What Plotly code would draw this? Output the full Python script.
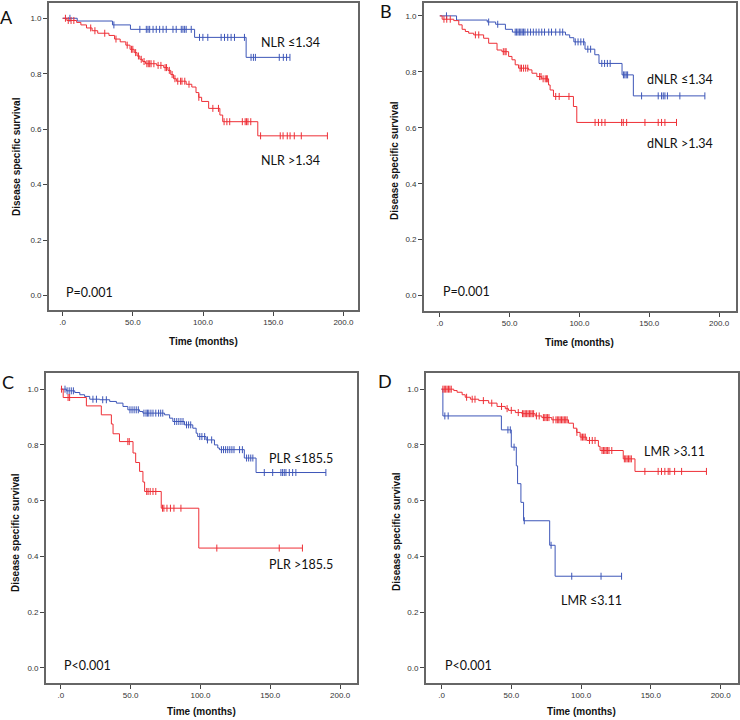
import plotly.graph_objects as go

W, H = 740, 720

# ---------------- data (time in months, survival proportion) ----------------
# Panel A: NLR
A_lo_t = [0, 10.4, 35.5, 48.3, 94.0, 130.7]
A_lo_s = [1.0, 0.990, 0.976, 0.960, 0.931, 0.859]
A_lo_c = [5.2, 36.5, 55, 59.6, 60.8, 62, 64.4, 66.7, 69.1, 71.5, 73.8, 78.6, 80.9, 84.5, 85.7, 86.9,
          88, 91.6, 97.5, 99.9, 103.4, 112.9, 115.3, 117.6, 120, 122.4, 129.5, 134.2, 135.9, 137.3,
          154.3, 157.2, 159.5, 161.9]
A_hi_t = [0, 3, 10, 13, 17, 21, 25, 33, 37, 41, 45, 48, 51, 53, 55, 57, 59, 67, 72, 75, 77, 79, 81,
          88, 92, 95, 97, 99, 104, 112, 114, 139]
A_hi_s = [1.0, 0.992, 0.985, 0.976, 0.965, 0.955, 0.946, 0.938, 0.925, 0.915, 0.903, 0.888, 0.876,
          0.864, 0.852, 0.844, 0.836, 0.830, 0.822, 0.812, 0.797, 0.782, 0.773, 0.762, 0.752, 0.732,
          0.715, 0.700, 0.675, 0.651, 0.627, 0.576]
A_hi_c = [2, 4, 6, 8, 20, 23, 30, 38, 46, 49, 50, 52, 54, 56, 58, 60, 61, 62, 63, 65, 68, 70, 73, 74,
          76, 78, 80, 82, 84, 85, 87, 90, 97, 107, 111, 115, 117, 119, 128, 130, 131, 132, 134, 141,
          155, 157, 160, 162, 165, 170, 188.6]

# Panel B: dNLR
B_lo_t = [0, 12, 34, 40, 47, 52, 90, 93, 96, 104, 111, 114, 130.5, 138.6]
B_lo_s = [1.0, 0.985, 0.978, 0.970, 0.952, 0.942, 0.932, 0.922, 0.907, 0.881, 0.861, 0.830, 0.789, 0.714]
B_lo_c = [4.8, 35, 41.5, 54, 55, 56, 57, 58, 59, 60, 61, 63, 65, 67, 69, 71, 73, 75, 78, 80, 83, 86,
          88, 97, 99, 101, 103, 106, 108, 116, 118, 120, 122, 131.5, 132.5, 133.5, 134.5, 144.5,
          156.4, 158.8, 160, 161.2, 163, 171.9, 189.8]
B_hi_t = [0, 1.7, 10, 13.6, 16, 18.3, 20.7, 24.3, 31.4, 35, 41, 44.5, 49.3, 51.7, 54, 56.4, 63.6, 66,
          69.5, 73, 77.9, 79, 81.4, 95.7, 98.1]
B_hi_s = [1.0, 0.988, 0.983, 0.968, 0.952, 0.944, 0.938, 0.932, 0.920, 0.902, 0.878, 0.872, 0.855,
          0.843, 0.825, 0.813, 0.807, 0.795, 0.783, 0.775, 0.753, 0.735, 0.712, 0.676, 0.619]
B_hi_c = [3, 5, 7.5, 25.5, 27.9, 45.5, 46.7, 47.5, 57.5, 58.5, 60, 61.5, 63, 71.5, 72.5, 74, 75.5,
          76.5, 77, 83, 85.5, 92.5, 111.2, 113.6, 116, 118.3, 130.2, 131.4, 133.8, 146.9, 156.4,
          158.8, 161.2, 169.5]

# Panel C: PLR
C_lo_t = [0, 4, 10, 13.6, 17, 20.7, 27.9, 35, 39.8, 44.5, 48, 56.4, 58.8, 74.3, 77.9, 80.2, 88.6,
          94.5, 96.9, 98, 104, 110, 112.4, 113.6, 131.4, 139.8]
C_lo_s = [1.0, 0.994, 0.988, 0.980, 0.974, 0.964, 0.962, 0.956, 0.950, 0.938, 0.926, 0.920, 0.914,
          0.908, 0.896, 0.884, 0.872, 0.860, 0.842, 0.830, 0.818, 0.800, 0.789, 0.783, 0.753, 0.701]
C_lo_c = [3, 4.5, 6, 7.5, 9, 23, 25.5, 30, 32.6, 49.5, 51, 52.5, 54, 55.5, 59.5, 61, 62, 63, 64.5,
          66, 68, 70, 71.5, 73, 81.5, 83, 84.5, 86, 87.5, 90, 91.5, 93, 99.5, 101, 103, 105, 108,
          115, 116.5, 118, 119.5, 121, 122.5, 124, 128, 130, 133, 134.5, 136, 137.5, 145.7, 151.7,
          157.6, 158.8, 160, 161.2, 163.6, 166, 168.3, 189.8]
C_hi_t = [0, 1.7, 18.3, 29, 36.2, 37.4, 42, 51.7, 53.6, 56.4, 58.8, 60, 71.9, 98.8]
C_hi_s = [1.0, 0.970, 0.940, 0.908, 0.875, 0.840, 0.812, 0.771, 0.737, 0.705, 0.667, 0.633, 0.573, 0.430]
C_hi_c = [0.5, 5.2, 6.3, 48, 49, 61.5, 62.5, 64, 66, 68, 72.8, 73.8, 76, 78.5, 81, 86, 111.7, 156.4, 173]

# Panel D: LMR
D_lo_t = [0, 1, 42.9, 50, 53.6, 54.5, 56.9, 58.8, 77.5, 81.4]
D_lo_s = [1.0, 0.904, 0.854, 0.792, 0.725, 0.661, 0.594, 0.528, 0.440, 0.329]
D_lo_c = [2.4, 4.8, 47.6, 49.3, 52, 59.3, 78.5, 93.3, 114.3, 129]
D_hi_t = [0, 8.8, 11.2, 14.8, 17, 20.7, 26.7, 33.8, 39.8, 45.7, 48, 52.9, 57.6, 67.1, 71.9, 79, 91,
          94.5, 96.9, 99.3, 104, 112.4, 113.6, 130.2, 138.6]
D_hi_s = [1.0, 0.995, 0.989, 0.980, 0.971, 0.964, 0.959, 0.950, 0.938, 0.930, 0.924, 0.916, 0.912,
          0.904, 0.898, 0.890, 0.878, 0.860, 0.845, 0.828, 0.816, 0.795, 0.780, 0.750, 0.705]
D_hi_c = [1, 2, 3, 4, 5, 6, 7, 18, 22, 24, 30, 36, 43, 47, 50, 55, 58, 59, 60, 61, 62, 63, 64, 65,
          66, 68, 70, 73, 74, 75, 76, 77, 80, 82, 83, 84, 85, 86, 87, 88, 89, 90, 97, 100, 101, 102,
          103, 106, 108, 110, 115, 116, 117, 118, 119, 120, 122, 131, 132, 133, 134, 135, 136,
          145.7, 155.2, 157.6, 160, 162.4, 163.6, 167, 172, 189.8]

x_tickvals = [0, 50, 100, 150, 200]
x_ticktext = [".0", "50.0", "100.0", "150.0", "200.0"]
y_tickvals = [0, 0.2, 0.4, 0.6, 0.8, 1.0]
y_ticktext = ["0.0", "0.2", "0.4", "0.6", "0.8", "1.0"]

BLUE = "#3d56b8"
RED = "#ee2f36"

# ---------------- layout geometry (pixels) ----------------
panels = [
    dict(letter="A", frame=(49, 359, 3, 310), xr=(-9.8, 210.4), yr=(-0.052, 1.055),
         curves=[(A_lo_t, A_lo_s, A_lo_c, BLUE), (A_hi_t, A_hi_s, A_hi_c, RED)],
         labels=[("NLR ≤1.34", 291, 42), ("NLR >1.34", 291, 160), ("P=0.001", 90, 292)],
         letter_pos=(7, 17), xt=(204, 341), yt=(16, 156)),
    dict(letter="B", frame=(425, 738, 3, 311), xr=(-11.4, 212.1), yr=(-0.055, 1.046),
         curves=[(B_lo_t, B_lo_s, B_lo_c, BLUE), (B_hi_t, B_hi_s, B_hi_c, RED)],
         labels=[("dNLR ≤1.34", 682, 79), ("dNLR >1.34", 682, 144), ("P=0.001", 468, 291)],
         letter_pos=(387, 11), xt=(581, 342), yt=(395, 160)),
    dict(letter="C", frame=(46, 358, 373, 683), xr=(-10.7, 212.1), yr=(-0.054, 1.058),
         curves=[(C_lo_t, C_lo_s, C_lo_c, BLUE), (C_hi_t, C_hi_s, C_hi_c, RED)],
         labels=[("PLR ≤185.5", 302, 459), ("PLR >185.5", 302, 564), ("P<0.001", 88, 665)],
         letter_pos=(8, 382), xt=(202, 711), yt=(15, 532)),
    dict(letter="D", frame=(427, 740, 373, 683), xr=(-11.2, 212.4), yr=(-0.054, 1.058),
         curves=[(D_lo_t, D_lo_s, D_lo_c, BLUE), (D_hi_t, D_hi_s, D_hi_c, RED)],
         labels=[("LMR >3.11", 676, 451), ("LMR ≤3.11", 593, 600), ("P<0.001", 470, 665)],
         letter_pos=(386, 381), xt=(583, 711), yt=(397, 531)),
]


def pxx(x):
    return x / W


def pxy(y):
    return 1 - y / H


def surv_at(times, surv, t):
    s = surv[0]
    for ti, si in zip(times, surv):
        if ti <= t:
            s = si
    return s


fig = go.Figure()
annotations = []
TICKFONT = dict(family="Liberation Sans, Arial", size=8, color="#333333")

for i, p in enumerate(panels, start=1):
    xa = "x" if i == 1 else f"x{i}"
    ya = "y" if i == 1 else f"y{i}"
    for times, surv, cens, color in p["curves"]:
        end = max(max(cens), times[-1])
        fig.add_trace(go.Scatter(
            x=list(times) + [end], y=list(surv) + [surv[-1]],
            mode="lines", line=dict(color=color, width=1, shape="hv"),
            xaxis=xa, yaxis=ya, showlegend=False, hoverinfo="skip"))
        fig.add_trace(go.Scatter(
            x=cens, y=[surv_at(times, surv, c) for c in cens],
            mode="markers",
            marker=dict(symbol="line-ns", size=5, line=dict(color=color, width=1)),
            xaxis=xa, yaxis=ya, showlegend=False, hoverinfo="skip"))

    x0, x1, y0, y1 = p["frame"]
    axis_common = dict(showline=True, mirror=True, linecolor="#666666", linewidth=1.5,
                       ticks="outside", ticklen=4, tickcolor="#444444", tickwidth=1,
                       showgrid=False, zeroline=False, tickfont=TICKFONT, fixedrange=True)
    xkey = "xaxis" if i == 1 else f"xaxis{i}"
    ykey = "yaxis" if i == 1 else f"yaxis{i}"
    fig.update_layout(**{
        xkey: dict(domain=[pxx(x0), pxx(x1)], range=list(p["xr"]), anchor=ya,
                   tickvals=x_tickvals, ticktext=x_ticktext, **axis_common),
        ykey: dict(domain=[pxy(y1), pxy(y0)], range=list(p["yr"]), anchor=xa,
                   tickvals=y_tickvals, ticktext=y_ticktext, **axis_common),
    })

    for text, cx, cy in p["labels"]:
        annotations.append(dict(text=text, x=pxx(cx), y=pxy(cy), xref="paper", yref="paper",
                                xanchor="center", yanchor="middle", showarrow=False,
                                font=dict(family="Lato, Open Sans", size=12.5, color="#111111")))
    lx, ly = p["letter_pos"]
    annotations.append(dict(text=p["letter"], x=pxx(lx), y=pxy(ly), xref="paper", yref="paper",
                            xanchor="center", yanchor="middle", showarrow=False,
                            font=dict(family="Lato, Open Sans", size=18, color="#111111")))
    tx, ty = p["xt"]
    annotations.append(dict(text="<b>Time (months)</b>", x=pxx(tx), y=pxy(ty), xref="paper",
                            yref="paper", xanchor="center", yanchor="middle", showarrow=False,
                            font=dict(family="Liberation Sans, Arial", size=10, color="#111111")))
    vx, vy = p["yt"]
    annotations.append(dict(text="<b>Disease specific survival</b>", x=pxx(vx), y=pxy(vy),
                            xref="paper", yref="paper", xanchor="center", yanchor="middle",
                            textangle=-90, showarrow=False,
                            font=dict(family="Liberation Sans, Arial", size=10, color="#111111")))

fig.update_layout(width=W, height=H, margin=dict(l=0, r=0, t=0, b=0),
                  paper_bgcolor="white", plot_bgcolor="white", annotations=annotations)

fig.write_html("out.html", config={"displayModeBar": False},
               post_script="document.body.style.margin='0';document.body.style.overflow='hidden';")
